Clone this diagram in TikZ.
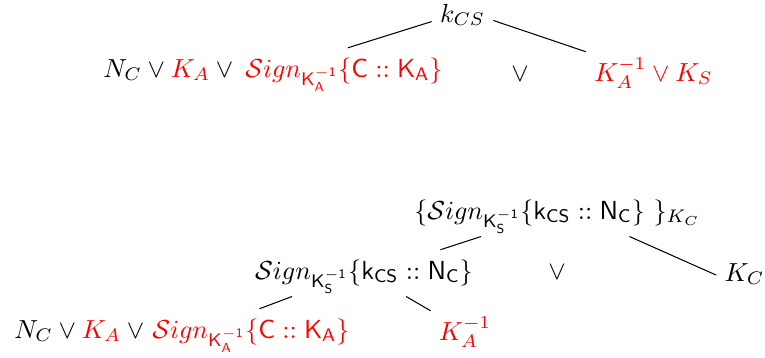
\documentclass[tikz,border=0pt]{standalone}
\usepackage{amsmath,amssymb}
\usepackage{tikz}
\usetikzlibrary{positioning}
\begin{document}
\begin{tikzpicture}[x=0.383pt,y=-0.383pt,every node/.style={inner sep=3pt,text height=8pt,text depth=3.5pt}]
  \tikzstyle{Term}=[anchor=base]
  \tikzstyle{RowStart}=[anchor=base west]
  \useasboundingbox (0,0) rectangle (765,357);

  % first tree
  \node[Term] (kcs) at (462.5,22) {$k_{CS}$};
  \node[RowStart] (nka) at (95,77) {$N_C \vee \textcolor{red}{K_A} \vee{}$};
  \node[RowStart,text=red] (signa) at (237,77) {$\mathcal{S}ign_{\mathsf{K_A^{-1}}}\{\mathsf{C} :: \mathsf{K_A}\}$};
  \node[Term] (ora) at (520,81) {$\vee$};
  \node[Term,text=red] (kaks) at (653.5,81) {$K_A^{-1} \vee K_S$};

  \draw (kcs.190) -- (signa.80);
  \draw (kcs.352) -- (kaks.north west);

  % second tree
  \node[Term] (tsig) at (557.5,219) {$\{\mathcal{S}ign_{\mathsf{K_S^{-1}}}\{\mathsf{k_{CS}} :: \mathsf{N_C}\}\ \}_{K_C}$};
  \node[Term] (msig) at (364,279) {$\mathcal{S}ign_{\mathsf{K_S^{-1}}}\{\mathsf{k_{CS}} :: \mathsf{N_C}\}$};
  \node[Term] (orb) at (557,279) {$\vee$};
  \node[Term] (kc) at (744.5,281) {$K_C$};
  \node[RowStart] (nkb) at (6,338) {$N_C \vee \textcolor{red}{K_A} \vee{}$};
  \node[RowStart,text=red] (signb) at (144,338) {$\mathcal{S}ign_{\mathsf{K_A^{-1}}}\{\mathsf{C} :: \mathsf{K_A}\}$};
  \node[Term,text=red] (kainv) at (465,340) {$K_A^{-1}$};

  \draw (tsig.197.5) -- (msig.17);
  \draw (tsig.342.5) -- (kc.west);
  \draw (msig.198.5) -- (signb.70);
  \draw (msig.331) -- (kainv.north west);
\end{tikzpicture}
\end{document}
